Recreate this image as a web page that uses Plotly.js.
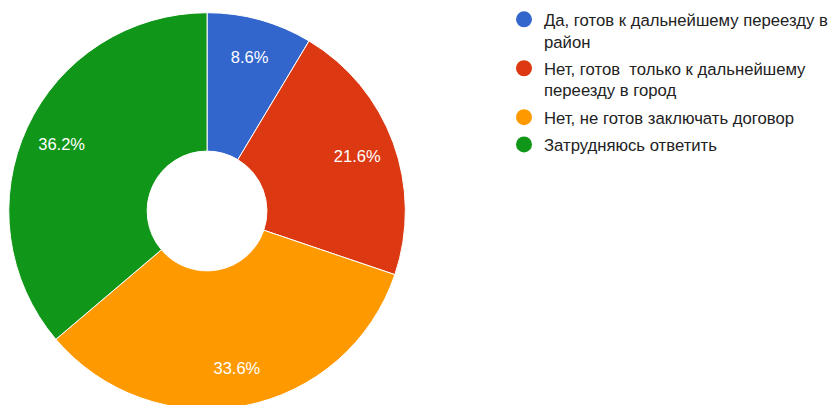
<!DOCTYPE html>
<html>
<head>
<meta charset="utf-8">
<script src="https://cdn.plot.ly/plotly-3.0.1.min.js"></script>
<style>
html,body{margin:0;padding:0;background:#fff;overflow:hidden;}
#chart{width:834px;height:420px;}
</style>
</head>
<body>
<div id="chart"></div>
<script>
const categories = [
  "Да, готов к дальнейшему переезду в<br>район",
  "Нет, готов  только к дальнейшему<br>переезду в город",
  "Нет, не готов заключать договор",
  "Затрудняюсь ответить"
];
const shares = [8.6, 21.6, 33.6, 36.2];
const colors = ["#3366cc", "#dc3912", "#ff9900", "#109618"];

const W = 834, H = 420;
const cx = 207.8, cyTop = 211, R = 199;
const domain = {
  x: [(cx - R) / W, (cx + R) / W],
  y: [(H - cyTop - R) / H, (H - cyTop + R) / H]
};
const FONT = "Liberation Sans, Arial, sans-serif";

const traces = [{
  type: "pie",
  values: shares,
  labels: categories,
  sort: false,
  direction: "clockwise",
  rotation: 0,
  hole: 0.302,
  marker: {colors: colors, line: {color: "#ffffff", width: 1}},
  textinfo: "none",
  showlegend: false,
  hoverinfo: "label+percent",
  domain: domain
}, {
  // transparent ring that only carries the percentage labels (outer part of the donut)
  type: "pie",
  values: shares,
  labels: categories,
  sort: false,
  direction: "clockwise",
  rotation: 0,
  hole: 0.615,
  marker: {colors: ["rgba(0,0,0,0)", "rgba(0,0,0,0)", "rgba(0,0,0,0)", "rgba(0,0,0,0)"], line: {width: 0}},
  texttemplate: "%{percent:.1%}",
  textposition: "inside",
  insidetextorientation: "horizontal",
  textfont: {family: FONT, size: 16.5, color: "#ffffff"},
  showlegend: false,
  hoverinfo: "skip",
  domain: domain
}];

categories.forEach((c, i) => {
  traces.push({
    type: "scatter",
    mode: "markers",
    x: [null], y: [null],
    name: c,
    legendgroup: "g" + i,
    marker: {color: colors[i], size: 16, symbol: "circle"},
    showlegend: true,
    hoverinfo: "skip"
  });
});

const layout = {
  width: W, height: H,
  margin: {l: 0, r: 0, t: 0, b: 0},
  paper_bgcolor: "#ffffff",
  plot_bgcolor: "#ffffff",
  xaxis: {visible: false},
  yaxis: {visible: false},
  showlegend: true,
  legend: {
    x: 506 / W, xanchor: "left",
    y: 1 - 2 / H, yanchor: "top",
    valign: "top",
    font: {family: FONT, size: 16.7, color: "#222222"},
    itemsizing: "trace",
    tracegroupgap: 2.5,
    bgcolor: "rgba(0,0,0,0)"
  }
};

Plotly.newPlot("chart", traces, layout, {displayModeBar: false, staticPlot: true});
</script>
</body>
</html>
